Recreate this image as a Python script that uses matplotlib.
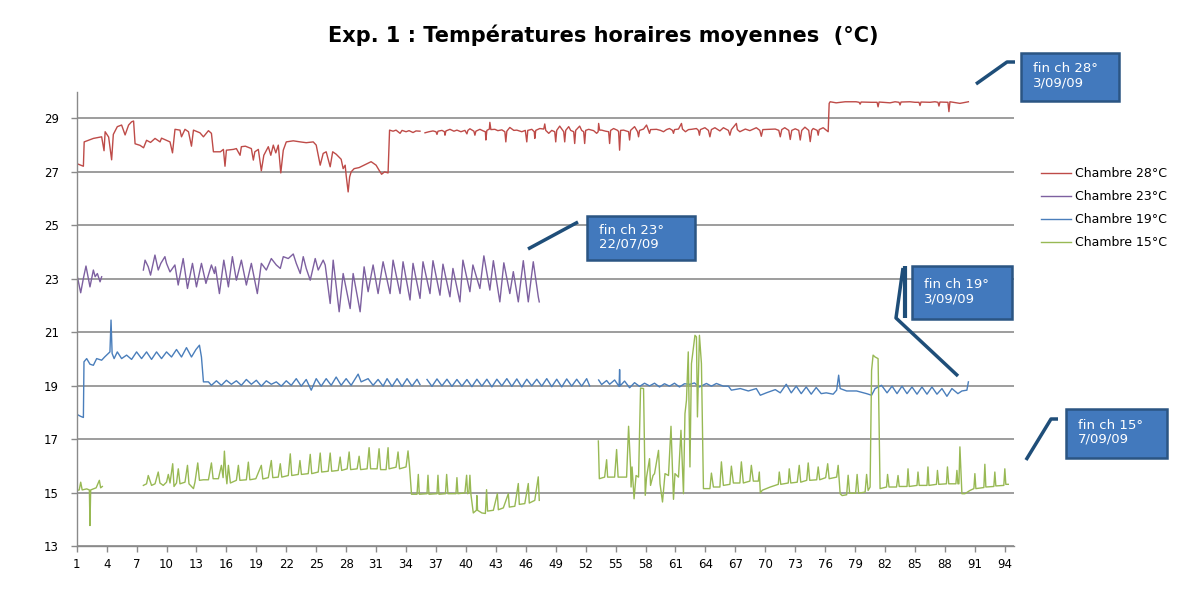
import numpy as np
import matplotlib
matplotlib.use("Agg")
import matplotlib.pyplot as plt
from matplotlib.patches import Rectangle
from matplotlib.lines import Line2D

plt.rcParams['font.family'] = ['DejaVu Sans']

nan = np.nan

# ---------- valeurs : (jour, température °C) ----------
chambre_28 = [
    (1.0, 27.31), (1.67, 27.21), (1.75, 28.12), (2.67, 28.25), (3.5, 28.31), (3.74, 27.79), (3.85, 28.5),
    (4.2, 28.3), (4.5, 27.45), (4.67, 28.4), (5.07, 28.69), (5.5, 28.75), (5.85, 28.38), (6.2, 28.75),
    (6.5, 28.87), (6.7, 28.9), (6.85, 28.05), (7.35, 27.99), (7.7, 27.9), (8.0, 28.18), (8.4, 28.1),
    (8.85, 28.25), (9.35, 28.12), (9.5, 28.26), (10.0, 28.18), (10.35, 28.12), (10.6, 27.71), (10.85, 28.59),
    (11.35, 28.56), (11.5, 28.31), (11.85, 28.59), (12.2, 28.5), (12.5, 27.96), (12.7, 28.56), (13.35, 28.46),
    (13.7, 28.31), (14.2, 28.54), (14.5, 28.44), (14.7, 27.75), (15.4, 27.75), (15.7, 27.84), (15.86, 27.21),
    (16.0, 27.81), (16.7, 27.84), (17.0, 27.87), (17.37, 27.62), (17.5, 27.94), (17.9, 27.96), (18.5, 27.87),
    (18.7, 27.44), (18.85, 27.75), (19.2, 27.84), (19.5, 27.04), (19.75, 27.62), (20.2, 27.94), (20.45, 27.62),
    (20.7, 28.0), (20.95, 27.71), (21.2, 28.0), (21.45, 26.96), (21.7, 27.81), (22.0, 28.12), (22.7, 28.16),
    (23.4, 28.12), (24.0, 28.09), (24.7, 28.12), (25.0, 28.0), (25.4, 27.25), (25.7, 27.69), (26.0, 27.75),
    (26.4, 27.19), (26.65, 27.75), (27.0, 27.66), (27.5, 27.47), (27.7, 27.12), (27.9, 27.25), (28.0, 26.87),
    (28.2, 26.25), (28.35, 26.81), (28.5, 27.0), (28.8, 27.12), (29.3, 27.16), (29.8, 27.25), (30.5, 27.38),
    (31.0, 27.25), (31.3, 27.06), (31.55, 26.91), (31.85, 27.0), (32.2, 26.96), (32.35, 28.56),
    (32.7, 28.52), (33.0, 28.56), (33.4, 28.44), (33.6, 28.55), (34.0, 28.5), (34.3, 28.54), (34.7, 28.47),
    (35.0, 28.53), (35.4, 28.52), (35.6, nan),
    (35.9, 28.46), (36.3, 28.5), (36.7, 28.53), (37.0, 28.5), (37.1, 28.4), (37.2, 28.52), (37.6, 28.55),
    (37.85, 28.5), (37.9, 28.37), (38.0, 28.53), (38.4, 28.59), (38.8, 28.52), (39.1, 28.56), (39.5, 28.5),
    (39.9, 28.55), (40.1, 28.42), (40.2, 28.55), (40.4, 28.61), (40.8, 28.52), (40.9, 28.37), (41.0, 28.52),
    (41.4, 28.59), (41.8, 28.52), (41.95, 28.5), (42.0, 28.19), (42.1, 28.55), (42.35, 28.6), (42.4, 28.85),
    (42.5, 28.58), (42.9, 28.59), (43.2, 28.54), (43.6, 28.57), (43.9, 28.5), (44.0, 28.12), (44.1, 28.52),
    (44.4, 28.66), (44.8, 28.55), (45.1, 28.56), (45.6, 28.5), (45.95, 28.55), (46.1, 28.12), (46.2, 28.55),
    (46.6, 28.59), (46.85, 28.5), (46.9, 28.25), (47.0, 28.55), (47.4, 28.62), (47.8, 28.6), (47.9, 28.79),
    (48.0, 28.55), (48.3, 28.44), (48.6, 28.55), (48.9, 28.5), (49.0, 28.12), (49.1, 28.55), (49.4, 28.71),
    (49.8, 28.5), (49.9, 28.12), (50.0, 28.55), (50.3, 28.69), (50.5, 28.55), (50.8, 28.5), (50.9, 28.06),
    (51.0, 28.55), (51.4, 28.71), (51.6, 28.55), (51.8, 28.5), (51.9, 28.06), (52.0, 28.55), (52.3, 28.59),
    (52.8, 28.54), (53.1, 28.44), (53.25, 28.5), (53.3, 28.81), (53.4, 28.56), (53.6, 28.56), (54.0, 28.52),
    (54.3, 28.5), (54.4, 28.06), (54.5, 28.55), (54.8, 28.62), (55.2, 28.55), (55.3, 28.5), (55.4, 27.81),
    (55.5, 28.55), (55.8, 28.56), (56.3, 28.5), (56.4, 28.19), (56.5, 28.55), (56.9, 28.69), (57.2, 28.5),
    (57.3, 28.31), (57.4, 28.55), (57.8, 28.6), (58.1, 28.75), (58.3, 28.55), (58.4, 28.44), (58.5, 28.58),
    (59.1, 28.59), (59.5, 28.55), (59.8, 28.5), (60.1, 28.58), (60.4, 28.62), (60.7, 28.55), (60.8, 28.44),
    (60.9, 28.58), (61.3, 28.6), (61.6, 28.81), (61.7, 28.6), (62.0, 28.5), (62.3, 28.58), (62.6, 28.59),
    (63.1, 28.62), (63.3, 28.55), (63.4, 28.37), (63.5, 28.58), (63.95, 28.65), (64.3, 28.55), (64.45, 28.31),
    (64.6, 28.58), (64.95, 28.65), (65.45, 28.53), (65.8, 28.65), (66.3, 28.55), (66.45, 28.37), (66.6, 28.58),
    (67.1, 28.81), (67.2, 28.58), (67.45, 28.5), (68.0, 28.6), (68.45, 28.54), (69.1, 28.65), (69.45, 28.55),
    (69.6, 28.33), (69.75, 28.58), (70.5, 28.59), (71.0, 28.6), (71.35, 28.55), (71.5, 28.31), (71.65, 28.58),
    (71.95, 28.65), (72.35, 28.55), (72.5, 28.21), (72.65, 28.55), (73.0, 28.61), (73.35, 28.55), (73.5, 28.19),
    (73.65, 28.55), (73.97, 28.67), (74.35, 28.55), (74.5, 28.13), (74.65, 28.55), (74.8, 28.62), (75.2, 28.55),
    (75.3, 28.37), (75.4, 28.58), (75.8, 28.65), (76.3, 28.5),
    (76.4, 29.56), (76.5, 29.62), (77.1, 29.58), (78.0, 29.62), (79.1, 29.62), (79.4, 29.6), (79.5, 29.53),
    (79.6, 29.61), (80.65, 29.6), (81.2, 29.6), (81.3, 29.43), (81.4, 29.61), (82.5, 29.58), (83.0, 29.62),
    (83.4, 29.6), (83.5, 29.5), (83.6, 29.61), (84.5, 29.62), (85.0, 29.6), (85.4, 29.6), (85.5, 29.48),
    (85.6, 29.61), (86.5, 29.6), (87.0, 29.62), (87.3, 29.6), (87.4, 29.46), (87.5, 29.61), (88.3, 29.6),
    (88.4, 29.25), (88.5, 29.62), (89.5, 29.56), (90.35, 29.62),
]

chambre_23 = [
    (1.0, 23.2), (1.4, 22.48), (1.67, 23.02), (1.93, 23.48), (2.33, 22.7), (2.67, 23.33), (2.85, 23.08),
    (3.07, 23.2), (3.34, 22.89), (3.5, 23.08), (3.6, nan),
    (7.68, 23.33), (7.85, 23.7), (8.17, 23.45), (8.4, 23.14), (8.84, 23.89), (9.17, 23.33), (9.43, 23.58),
    (9.84, 23.83), (10.0, 23.58), (10.35, 23.26), (10.84, 23.52), (11.17, 22.77), (11.67, 23.76), (12.1, 22.64),
    (12.6, 23.58), (13.0, 22.7), (13.5, 23.58), (13.95, 22.83), (14.5, 23.52), (14.8, 23.2), (14.9, 23.45),
    (15.3, 22.45), (15.74, 23.7), (16.2, 22.7), (16.6, 23.83), (17.0, 22.95), (17.5, 23.7), (18.0, 22.77),
    (18.5, 23.58), (19.1, 22.45), (19.5, 23.58), (20.0, 23.33), (20.5, 23.76), (21.0, 23.52), (21.4, 23.39),
    (21.7, 23.83), (22.2, 23.76), (22.7, 23.93), (23.0, 23.58), (23.4, 23.2), (23.7, 23.83), (24.0, 23.39),
    (24.4, 22.95), (24.9, 23.76), (25.2, 23.33), (25.7, 23.7), (25.9, 23.52), (26.4, 22.08), (26.7, 23.7),
    (27.3, 21.77), (27.7, 23.2), (28.4, 21.89), (28.7, 23.2), (29.4, 21.77), (29.8, 23.45), (30.2, 22.52),
    (30.7, 23.52), (31.2, 22.45), (31.7, 23.64), (32.4, 22.45), (32.7, 23.7), (33.4, 22.45), (33.7, 23.64),
    (34.4, 22.21), (34.7, 23.58), (35.4, 22.27), (35.7, 23.64), (36.4, 22.45), (36.7, 23.68), (37.4, 22.39),
    (37.7, 23.55), (38.4, 22.33), (38.7, 23.39), (39.4, 22.14), (39.7, 23.7), (40.4, 22.52), (40.7, 23.52),
    (41.4, 22.64), (41.8, 23.86), (42.4, 22.58), (42.75, 23.68), (43.4, 22.14), (43.8, 23.6), (44.4, 22.45),
    (44.75, 23.27), (45.25, 22.14), (45.75, 23.68), (46.25, 22.14), (46.75, 23.64), (47.25, 22.33),
    (47.35, 22.14),
]

chambre_19 = [
    (1.0, 17.94), (1.4, 17.86), (1.67, 17.82), (1.73, 19.9), (2.0, 20.02), (2.33, 19.81), (2.67, 19.77),
    (3.0, 20.02), (3.5, 19.96), (3.8, 20.08), (4.17, 20.21), (4.33, 20.27), (4.44, 21.46), (4.55, 20.21),
    (4.75, 20.02), (5.07, 20.27), (5.5, 20.02), (6.0, 20.15), (6.5, 19.99), (7.0, 20.27), (7.5, 20.02),
    (8.0, 20.27), (8.5, 19.99), (9.0, 20.27), (9.5, 20.02), (10.0, 20.27), (10.5, 20.08), (11.0, 20.36),
    (11.5, 20.08), (12.0, 20.43), (12.5, 20.08), (12.95, 20.36), (13.3, 20.52), (13.5, 20.08), (13.7, 19.15),
    (14.2, 19.15), (14.5, 19.02), (15.0, 19.19), (15.5, 19.02), (16.0, 19.21), (16.5, 19.06), (17.0, 19.19),
    (17.5, 19.02), (18.0, 19.24), (18.5, 19.06), (19.0, 19.21), (19.5, 18.99), (20.0, 19.19), (20.5, 19.06),
    (21.0, 19.15), (21.5, 18.99), (22.0, 19.19), (22.5, 19.02), (23.0, 19.27), (23.5, 18.99), (24.0, 19.24),
    (24.5, 18.84), (25.0, 19.27), (25.5, 18.99), (26.0, 19.27), (26.5, 19.02), (27.0, 19.33), (27.5, 19.02),
    (28.0, 19.27), (28.5, 19.02), (29.2, 19.44), (29.5, 19.15), (30.2, 19.27), (30.7, 19.02), (31.2, 19.24),
    (31.7, 18.99), (32.1, 19.27), (32.6, 18.98), (33.1, 19.27), (33.6, 18.98), (34.1, 19.27), (34.6, 18.99),
    (35.1, 19.25), (35.4, 19.05), (35.5, nan), (36.1, 19.24), (36.6, 18.98), (37.1, 19.26), (37.6, 19.0),
    (38.1, 19.25), (38.6, 18.98), (39.1, 19.24), (39.6, 18.99), (40.1, 19.24), (40.6, 18.97), (41.1, 19.25),
    (41.6, 18.99), (42.1, 19.25), (42.6, 18.96), (43.1, 19.25), (43.6, 19.0), (44.1, 19.27), (44.6, 18.98),
    (45.1, 19.26), (45.6, 18.96), (46.1, 19.25), (46.6, 19.0), (47.1, 19.25), (47.6, 18.99), (48.1, 19.27),
    (48.6, 18.97), (49.1, 19.25), (49.6, 18.96), (50.1, 19.26), (50.6, 18.99), (51.1, 19.25), (51.6, 18.99),
    (52.1, 19.27), (52.4, 19.0), (52.5, nan), (53.3, 19.22), (53.6, 19.05), (54.1, 19.2), (54.4, 19.06),
    (54.9, 19.22), (55.35, 18.98), (55.4, 19.61), (55.45, 19.0), (55.9, 19.18), (56.4, 18.93), (56.9, 19.12),
    (57.4, 18.98), (57.9, 19.1), (58.4, 19.0), (58.9, 19.1), (59.4, 18.96), (59.9, 19.08), (60.4, 18.99),
    (60.9, 19.1), (61.4, 18.96), (61.9, 19.08), (62.45, 19.06), (62.9, 19.11), (63.4, 18.96), (64.1, 19.09),
    (64.6, 18.99), (65.1, 19.09), (65.8, 18.99), (66.3, 18.99), (66.6, 18.84), (67.5, 18.9), (68.3, 18.81),
    (69.1, 18.9), (69.5, 18.65), (70.1, 18.74), (71.0, 18.86), (71.5, 18.74), (72.1, 19.06), (72.6, 18.74),
    (73.1, 18.99), (73.6, 18.71), (74.1, 18.96), (74.6, 18.69), (75.1, 18.94), (75.6, 18.71), (76.1, 18.74),
    (76.8, 18.69), (77.15, 18.84), (77.35, 19.4), (77.5, 18.9), (78.15, 18.81), (79.15, 18.81), (80.15, 18.71),
    (80.65, 18.65), (81.0, 18.9), (81.65, 19.02), (82.2, 18.74), (82.7, 18.99), (83.2, 18.71), (83.7, 18.99),
    (84.2, 18.71), (84.7, 18.96), (85.2, 18.69), (85.7, 18.96), (86.2, 18.69), (86.7, 18.96), (87.2, 18.69),
    (87.7, 18.9), (88.2, 18.61), (88.7, 18.9), (89.3, 18.71), (89.7, 18.81), (90.2, 18.84), (90.35, 19.15),
]

chambre_15 = [
    (1.0, 15.09), (1.25, 15.11), (1.4, 15.4), (1.55, 15.11), (2.0, 15.15), (2.27, 15.11), (2.33, 13.78),
    (2.4, 15.11), (2.95, 15.19), (3.27, 15.47), (3.4, 15.19), (3.57, 15.24), (3.6, nan),
    (7.68, 15.28), (8.0, 15.34), (8.17, 15.65), (8.5, 15.28), (8.85, 15.34), (9.17, 15.78), (9.34, 15.37),
    (9.67, 15.28), (10.0, 15.4), (10.18, 15.69), (10.35, 15.37), (10.62, 16.09), (10.75, 15.24), (11.0, 15.37),
    (11.18, 15.9), (11.35, 15.34), (11.85, 15.4), (12.1, 16.03), (12.25, 15.34), (12.7, 15.16), (12.85, 15.4),
    (13.13, 16.12), (13.3, 15.47), (13.7, 15.49), (14.2, 15.49), (14.5, 16.12), (14.67, 15.53), (15.2, 15.53),
    (15.5, 16.03), (15.67, 15.57), (15.8, 16.56), (15.94, 15.72), (16.05, 15.34), (16.2, 16.03), (16.4, 15.37),
    (17.0, 15.47), (17.2, 16.03), (17.35, 15.47), (18.0, 15.49), (18.2, 16.15), (18.35, 15.49), (18.95, 15.53),
    (19.5, 16.03), (19.65, 15.52), (20.2, 15.57), (20.5, 16.21), (20.65, 15.57), (21.2, 15.59), (21.4, 16.09),
    (21.55, 15.59), (22.2, 15.65), (22.4, 16.46), (22.55, 15.65), (23.2, 15.69), (23.37, 16.21), (23.52, 15.69),
    (24.2, 15.72), (24.4, 16.44), (24.55, 15.72), (25.2, 15.78), (25.4, 16.49), (25.55, 15.78), (26.2, 15.81),
    (26.4, 16.49), (26.55, 15.81), (27.2, 15.84), (27.4, 16.34), (27.55, 15.84), (28.1, 15.9), (28.3, 16.53),
    (28.45, 15.87), (29.1, 15.9), (29.3, 16.37), (29.45, 15.87), (30.1, 15.9), (30.3, 16.69), (30.45, 15.9),
    (31.1, 15.9), (31.3, 16.65), (31.45, 15.87), (32.0, 15.87), (32.2, 16.69), (32.3, 15.9), (33.0, 15.96),
    (33.2, 16.53), (33.35, 15.9), (34.0, 15.97), (34.2, 16.57), (34.35, 15.97), (34.55, 14.95), (35.1, 14.95),
    (35.23, 15.69), (35.33, 14.95), (36.1, 14.97), (36.2, 15.66), (36.3, 14.95), (37.1, 14.97), (37.2, 15.66),
    (37.3, 14.95), (37.95, 14.97), (38.07, 15.69), (38.2, 14.97), (39.0, 14.97), (39.1, 15.57), (39.2, 14.97),
    (39.9, 15.0), (40.07, 15.66), (40.17, 14.97), (40.3, 15.0), (40.4, 15.66), (40.5, 14.95), (40.74, 14.25),
    (41.05, 14.35), (41.1, 14.9), (41.17, 14.35), (41.6, 14.25), (41.95, 14.23), (42.07, 15.12), (42.17, 14.32),
    (42.75, 14.35), (43.15, 14.97), (43.25, 14.37), (43.75, 14.44), (44.25, 14.97), (44.35, 14.47),
    (44.9, 14.5), (45.25, 15.35), (45.35, 14.57), (45.9, 14.6), (46.25, 15.35), (46.35, 14.62), (46.9, 14.72),
    (47.25, 15.6), (47.35, 14.72), (47.4, nan),
    (53.27, 16.94), (53.37, 15.53), (53.9, 15.59), (54.1, 16.24), (54.2, 15.59), (54.9, 15.59), (55.1, 16.62),
    (55.25, 15.59), (56.1, 15.59), (56.3, 17.49), (56.5, 15.97), (56.55, 15.22), (56.65, 15.97), (56.85, 14.78),
    (57.05, 15.65), (57.3, 15.59), (57.5, 18.92), (57.8, 18.9), (57.97, 14.91), (58.1, 15.59), (58.4, 16.28),
    (58.5, 15.28), (58.75, 15.65), (58.9, 15.72), (59.3, 16.59), (59.45, 15.34), (59.7, 14.66), (59.95, 15.72),
    (60.3, 15.65), (60.55, 17.49), (60.8, 14.76), (60.95, 15.72), (61.3, 15.59), (61.55, 17.34), (61.8, 14.97),
    (61.95, 17.96), (62.1, 18.46), (62.28, 20.27), (62.45, 15.97), (62.6, 19.83), (62.95, 20.89), (63.1, 20.83),
    (63.2, 17.84), (63.4, 20.89), (63.6, 19.83), (63.8, 15.16), (64.45, 15.16), (64.6, 15.74), (64.8, 15.22),
    (65.45, 15.22), (65.6, 16.16), (65.8, 15.28), (66.45, 15.32), (66.6, 16.0), (66.8, 15.37), (67.45, 15.37),
    (67.6, 16.16), (67.8, 15.37), (68.45, 15.44), (68.6, 16.03), (68.8, 15.44), (69.3, 15.44), (69.4, 15.78),
    (69.5, 15.0), (69.7, 15.1), (70.5, 15.22), (71.3, 15.32), (71.4, 15.78), (71.55, 15.32), (72.3, 15.37),
    (72.4, 15.9), (72.55, 15.37), (73.2, 15.4), (73.4, 16.03), (73.55, 15.4), (74.15, 15.47), (74.3, 16.12),
    (74.45, 15.47), (75.15, 15.49), (75.3, 15.97), (75.45, 15.49), (76.05, 15.57), (76.25, 16.09),
    (76.4, 15.53), (77.15, 15.59), (77.3, 16.03), (77.5, 14.97), (77.7, 14.9), (78.15, 14.93), (78.3, 15.66),
    (78.45, 14.99), (79.05, 14.99), (79.2, 15.69), (79.35, 14.99), (80.0, 15.03), (80.15, 15.69), (80.3, 15.09),
    (80.5, 15.22), (80.65, 19.58), (80.8, 20.15), (81.0, 20.08), (81.3, 20.02), (81.5, 15.16), (82.15, 15.22),
    (82.25, 15.69), (82.4, 15.22), (83.15, 15.22), (83.3, 15.65), (83.42, 15.24), (84.2, 15.24), (84.3, 15.9),
    (84.42, 15.24), (85.2, 15.28), (85.3, 15.78), (85.42, 15.28), (86.2, 15.28), (86.3, 15.97), (86.4, 15.28),
    (87.15, 15.32), (87.25, 15.84), (87.38, 15.32), (88.15, 15.34), (88.25, 15.97), (88.38, 15.34),
    (89.1, 15.34), (89.2, 15.84), (89.3, 15.34), (89.4, 15.34), (89.5, 16.72), (89.7, 14.97), (90.0, 14.97),
    (90.5, 15.09), (90.9, 15.16), (91.0, 15.72), (91.1, 15.16), (91.9, 15.2), (92.0, 16.07), (92.1, 15.22),
    (92.9, 15.24), (93.0, 15.78), (93.1, 15.26), (93.9, 15.28), (94.0, 15.9), (94.1, 15.32), (94.35, 15.32),
]

series_labels = ["Chambre 28°C", "Chambre 23°C", "Chambre 19°C", "Chambre 15°C"]
series_colors = ["#be4b48", "#7d60a0", "#4a7ebb", "#98b954"]

y_ticks = np.arange(13, 30, 2)
x_ticks = np.arange(1, 95, 3)

W, H = 1197, 610


def fx(px):
    return px / W


def fy(py):
    return 1 - py / H


fig = plt.figure(figsize=(W / 100, H / 100), dpi=100)
ax = fig.add_axes([fx(76.7), fy(546.4), fx(1013.8) - fx(76.7), fy(91.6) - fy(546.4)])

for serie, lab, col in zip([chambre_28, chambre_23, chambre_19, chambre_15], series_labels, series_colors):
    d = np.array(serie)
    ax.plot(d[:, 0], d[:, 1], color=col, lw=1.0, label=lab)

# axes
ax.set_xlim(1, 94.9)
ax.set_ylim(13, 30)
ax.set_yticks(y_ticks)
ax.set_xticks(x_ticks)
ax.tick_params(axis='both', labelsize=8.5, color='#8a8a8a', length=4, width=1.0)
ax.tick_params(axis='x', pad=4)
ax.tick_params(axis='y', pad=9)
for s in ['top', 'right']:
    ax.spines[s].set_visible(False)
for s in ['left', 'bottom']:
    ax.spines[s].set_color('#8a8a8a')
    ax.spines[s].set_linewidth(1.0)
ax.grid(axis='y', color='#8c8c8c', lw=1.2)
ax.set_axisbelow(True)

fig.text(fx(603), fy(35), "Exp. 1 : Températures horaires moyennes  (°C)", ha='center', va='center',
         fontsize=15, fontweight='bold')

# légende
handles = [Line2D([], [], color=c, lw=1.0) for c in series_colors]
fig.legend(handles, series_labels, loc='upper left', bbox_to_anchor=(fx(1041), fy(167)),
           frameon=False, fontsize=9, handlelength=2.4, handletextpad=0.35, labelspacing=0.8,
           borderpad=0, borderaxespad=0)

# cadres "fin ch"
box_fill = "#4279bd"
box_edge = "#2b5583"
line_col = "#1f4e79"


def callout(x0, y0, x1, y1, text):
    fig.add_artist(Rectangle((fx(x0), fy(y1)), fx(x1) - fx(x0), fy(y0) - fy(y1),
                             transform=fig.transFigure, facecolor=box_fill, edgecolor=box_edge, lw=1.8))
    fig.text(fx(x0 + 12), fy((y0 + y1) / 2 - 1), text, color='white', fontsize=9.5, va='center',
             ha='left', multialignment='left', linespacing=1.1)


def connector(xs, ys, lw=2.5):
    fig.add_artist(Line2D([fx(x) for x in xs], [fy(y) for y in ys], transform=fig.transFigure,
                          color=line_col, lw=lw, solid_capstyle='butt'))


callout(1021, 53, 1119, 101, "fin ch 28°\n3/09/09")
connector([976, 1007, 1015], [84, 62, 62])
callout(587, 216, 695, 260, "fin ch 23°\n22/07/09")
connector([528, 578], [249, 222])
callout(912, 266, 1012, 319, "fin ch 19°\n3/09/09")
connector([904.5, 904.5], [266, 318], lw=3)
connector([903, 896, 958], [268, 318, 376])
callout(1066, 409, 1167, 458, "fin ch 15°\n7/09/09")
connector([1026, 1051, 1058], [460, 419, 419])

fig.savefig("out.png", dpi=100)
